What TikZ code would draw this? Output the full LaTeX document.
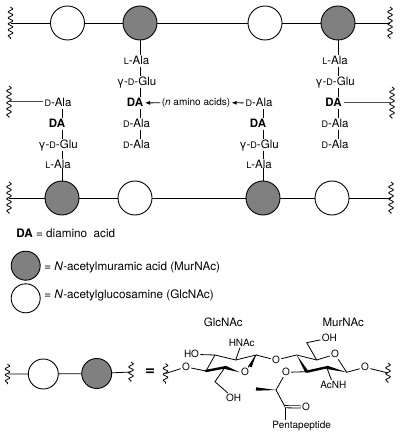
\documentclass[tikz,border=0pt]{standalone}
\usepackage{fontspec}
\setmainfont{TeX Gyre Heros}
\usetikzlibrary{arrows.meta,calc,decorations.pathmorphing}
\newcommand{\smallD}{{\fontsize{9}{9}\selectfont D}}
\newcommand{\smallL}{{\fontsize{9}{9}\selectfont L}}
\newcommand{\wedgebond}[2]{\fill (#1) -- ($(#2)!1.7pt!90:(#1)$) -- ($(#2)!1.7pt!-90:(#1)$) -- cycle;}
\tikzset{
    sugar/.style={circle,draw,line width=0.9pt,inner sep=0pt,minimum size=#1},
    glc/.style={sugar=#1,fill=white},
    mur/.style={sugar=#1,fill=black!50},
    aalabel/.style={inner sep=1.5pt,text height=8pt,text depth=0pt,font=\fontsize{11.5}{12}\selectfont},
    atom/.style={inner sep=1pt,text height=7.2pt,text depth=0pt,font=\fontsize{10}{11}\selectfont},
    legendtext/.style={anchor=west,inner sep=0pt,font=\fontsize{11.7}{12}\selectfont},
    squiggle/.style={decorate,decoration={snake,amplitude=2.3pt,segment length=6pt}},
    bond/.style={line width=0.8pt},
    boldbond/.style={line width=2.4pt,line cap=round},
}
\begin{document}
\begin{tikzpicture}[x=1pt,y=-1pt,line width=0.8pt]
    \useasboundingbox (0,0) rectangle (400,435);
    % squiggles
        \foreach \v/\x/\y/\h in {wa/10.5/23/16,wb/390/23/16,wc/9/102/16,wd/392/103/16,we/9/198/16,wf/391/198/16,wg/7.5/374/10,wh/131/372/10,wi/165.5/373.5/10,wj/388/373/10}{
            \coordinate (\v) at (\x,\y);
            \draw[squiggle] (\x,\y-\h) -- (\x,\y+\h);
        }
    % sugars
        \foreach \v/\x in {top1/67.5,top3/265}{
            \node[glc=34pt] (\v) at (\x,23) {};
        }
        \foreach \v/\x in {top2/140,top4/338}{
            \node[mur=34pt] (\v) at (\x,23) {};
        }
        \foreach \v/\x in {bot2/135,bot4/332}{
            \node[glc=34pt] (\v) at (\x,198) {};
        }
        \foreach \v/\x in {bot1/62,bot3/263}{
            \node[mur=34pt] (\v) at (\x,198) {};
        }
        \draw (wa) -- (top1) -- (top2) -- (top3) -- (top4) -- (wb);
        \draw (we) -- (bot1) -- (bot2) -- (bot3) -- (bot4) -- (wf);
    % peptides going down
        \foreach \x/\v/\s in {136.5/p/top2,335/q/top4}{
            \node[aalabel] (\v1) at (\x,61) {\smallL-Ala};
            \node[aalabel] (\v2) at (\x,82) {γ-\smallD-Glu};
            \node[aalabel] (\v3) at (\x-1.5,103) {\textbf{DA}};
            \node[aalabel] (\v4) at (\x,124) {\smallD-Ala};
            \node[aalabel] (\v5) at (\x,145) {\smallD-Ala};
            \draw (\s) -- (\s |- \v1.north);
            \foreach \a/\b in {1/2,2/3,3/4,4/5}{
                \draw (\s |- \v\a.south) -- (\s |- \v\b.north);
            }
        }
    % peptides going up
        \foreach \x/\v/\s in {58/r/bot1,259/s/bot3}{
            \node[aalabel] (\v1) at (\x,103) {\smallD-Ala};
            \node[aalabel] (\v2) at (\x-1,124) {\textbf{DA}};
            \node[aalabel] (\v3) at (\x,145) {γ-\smallD-Glu};
            \node[aalabel] (\v4) at (\x,165) {\smallL-Ala};
            \foreach \a/\b in {1/2,2/3,3/4}{
                \draw (\s |- \v\a.south) -- (\s |- \v\b.north);
            }
            \draw (\s) -- ([yshift=3pt]\s |- \v4.south);
        }
    % cross links
        \node[inner sep=1pt,font=\fontsize{10}{11}\selectfont] (amino) at (196,102.5) {(\textit{n} amino acids)};
        \draw[black!70,line width=1pt] (wc) -- (wc -| r1.west);
        \draw[black!70,line width=1pt] (q3) -- (wd);
        \draw[-{Latex[length=5pt,width=4pt]}] (amino) -- (p3);
        \draw[-{Latex[length=5pt,width=4pt]}] (s1) -- (amino);
    % legend
        \node[legendtext] (dalabel) at (16,233) {\textbf{DA} = diamino\ \ acid};
        \node[mur=29pt] (murkey) at (25.7,265.7) {};
        \node[glc=29pt] (glckey) at (25.7,298.3) {};
        \node[legendtext] (murtext) at (44,268) {= \textit{N}-acetylmuramic acid (MurNAc)};
        \node[legendtext] (glctext) at (44,295) {= \textit{N}-acetylglucosamine (GlcNAc)};
    % disaccharide
        \node[glc=30pt] (diglc) at (43.3,374) {};
        \node[mur=30pt] (dimur) at (96.7,373.5) {};
        \draw (wg) -- (diglc) -- (dimur) -- (wh);
        \node[inner sep=0pt,font=\fontsize{17}{17}\selectfont\bfseries] (equal) at (150,372) {=};
    % ring atoms
        \foreach \v/\x/\y in {a/206/371,b/225/367.3,c/256/355,d/235.7/360,e/215/355,ch/215/381.7,cw/250/366.7,
                              f/296.7/355,g/316.7/360,h/346.7/372.3,i/326.7/367.3,j/306.7/371.7,k/306.7/342.7,
                              m/276/390,me/256/389,n/285/406.7}{
            \coordinate (\v) at (\x,\y);
        }
        \foreach \v/\x/\y/\t in {oa/186/367/O,ob/245/372.3/O,oc/276/360/O,od/335/354.3/O,oe/286/372.3/O,of/365/367.3/O,
                                 og/306/407/O,ho/191.5/354.3/HO,hn/241.7/342.7/HNAc,oh/233.5/398/OH,oi/329.3/338/OH,
                                 ac/333.3/385/AcNH,pp/301.7/425/Pentapeptide}{
            \node[atom] (\v) at (\x,\y) {\t};
        }
        \node[legendtext,anchor=center,font=\fontsize{11.5}{12}\selectfont] (glcname) at (223.3,322.7) {GlcNAc};
        \node[legendtext,anchor=center,font=\fontsize{11.5}{12}\selectfont] (murname) at (343.3,322.7) {MurNAc};
    % bonds
        \draw[bond] (wi) -- (oa) -- (a);
        \draw[bond] (ob) -- (c) -- (d) -- (e) -- (a);
        \draw[bond] (ho) -- (e);
        \draw[bond] (d) -- (hn);
        \draw[bond] (b) -- (ch) -- (oh);
        \draw[bond] (c) -- (oc) -- (f) -- (g) -- (od) -- (h) -- (of) -- (wj);
        \draw[bond] (g) -- (k) -- (oi);
        \draw[bond] (i) -- (ac);
        \draw[bond] (j) -- (oe) -- (m) -- (n);
        \draw[bond] (n) -- (n |- pp.north);
        \draw[bond,double,double distance=1.4pt] (n) -- (og);
        \draw[boldbond] (a) -- (b);
        \draw[boldbond] (j) -- (i);
        \wedgebond{ob.west}{b}
        \wedgebond{c}{cw}
        \wedgebond{f}{j}
        \wedgebond{h}{i}
        \wedgebond{m}{me}
\end{tikzpicture}
\end{document}
